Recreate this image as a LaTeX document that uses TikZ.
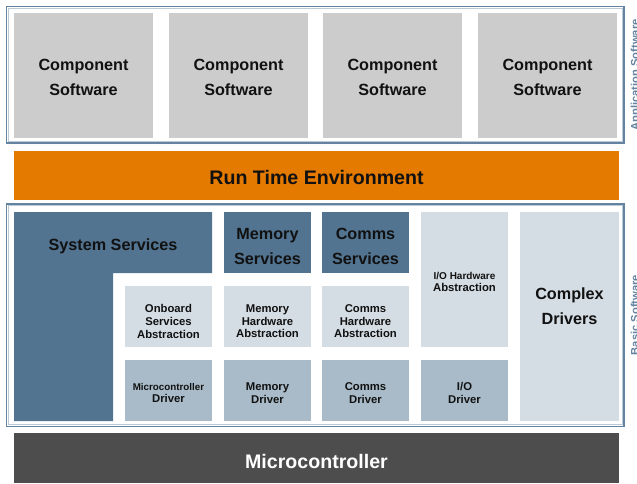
\documentclass[tikz,border=0pt]{standalone}
\usepackage{fontspec}
\setmainfont{Liberation Sans}
\definecolor{compgray}{HTML}{CCCCCC}
\definecolor{rteorange}{HTML}{E57A00}
\definecolor{svcblue}{HTML}{527491}
\definecolor{abslight}{HTML}{D5DDE4}
\definecolor{drvmid}{HTML}{A9BBC8}
\definecolor{mcudark}{HTML}{4D4D4D}
\definecolor{framedark}{HTML}{6383A0}
\definecolor{framelight}{HTML}{BCCAD6}
\definecolor{inktext}{HTML}{111111}
\begin{document}
\begin{tikzpicture}[x=1pt,y=-1pt,
  lbl/.style={inner sep=0pt, align=center, text=inktext},
  blk/.style={inner sep=0pt},
  bigfont/.style={font=\bfseries\fontsize{16.2}{25}\selectfont},
  hugefont/.style={font=\bfseries\fontsize{19.6}{24}\selectfont},
  smallfont/.style={font=\bfseries\fontsize{11.3}{12.6}\selectfont},
  compbox/.style={blk, fill=compgray, minimum width=139pt, minimum height=125pt},
  svcbox/.style={blk, fill=svcblue, minimum width=87pt, minimum height=61pt},
  absbox/.style={blk, fill=abslight, minimum width=87pt, minimum height=61pt},
  drvbox/.style={blk, fill=drvmid, minimum width=87pt, minimum height=61pt},
  % centred caption of a box, nudged down by the given amount
  cap/.style 2 args={label={[lbl, #1]center:{#2}}},
  layerframe/.style={draw=framedark, line width=1.4pt},
  layerinner/.style={draw=framelight, line width=0.9pt},
  sidelabel/.style={inner sep=0pt, rotate=90, anchor=north, text=framedark,
    font=\bfseries\fontsize{11.2}{13}\selectfont}]
\useasboundingbox (0,0) rectangle (637,483);

% layer frames
\draw[layerframe] (6.5,6.5) rectangle (624,143);
\draw[layerinner] (8.3,8.3) rectangle (622.2,141.2);
\draw[layerframe] (6.5,204) rectangle (624,426.5);
\draw[layerinner] (8.3,205.8) rectangle (622.2,424.7);

% application layer
\node[compbox, cap={bigfont, yshift=-2pt}{Component\\Software}] (c1) at (83.5,75.5) {};
\node[compbox, cap={bigfont, yshift=-2pt}{Component\\Software}] (c2) at (238.5,75.5) {};
\node[compbox, cap={bigfont, yshift=-2pt}{Component\\Software}] (c3) at (392.5,75.5) {};
\node[compbox, cap={bigfont, yshift=-2pt}{Component\\Software}] (c4) at (547.5,75.5) {};

% run time environment
\node[blk, fill=rteorange, minimum width=605pt, minimum height=49pt,
  cap={hugefont, yshift=-2pt}{Run Time Environment}] (rte) at (316.5,175.5) {};

% system services (L-shaped block)
\fill[svcblue] (14,212) -- (212,212) -- (212,273) -- (113,273) -- (113,421) -- (14,421) -- cycle;
\node[lbl, bigfont] (sys) at (113,246.5) {System Services};

% service row
\node[svcbox, cap={bigfont, yshift=-4pt}{Memory\\Services}] (memsvc) at (267.5,242.5) {};
\node[svcbox, cap={bigfont, yshift=-4pt}{Comms\\Services}] (comsvc) at (365.5,242.5) {};

% hardware abstraction row
\node[absbox, cap={smallfont, yshift=-5pt}{Onboard\\Services\\Abstraction}] (onabs) at (168.5,316.5) {};
\node[absbox, cap={smallfont, yshift=-5pt}{Memory\\Hardware\\Abstraction}] (memabs) at (267.5,316.5) {};
\node[absbox, cap={smallfont, yshift=-5pt}{Comms\\Hardware\\Abstraction}] (comabs) at (365.5,316.5) {};
\node[absbox, minimum height=135pt,
  cap={smallfont, yshift=-2.5pt}{{\fontsize{10}{12.6}\selectfont I/O Hardware}\\Abstraction}] (ioabs) at (464.5,279.5) {};

% driver row
\node[drvbox, cap={smallfont, yshift=-2.5pt}{{\fontsize{9.8}{12.6}\selectfont Microcontroller}\\Driver}] (mcudrv) at (168.5,390.5) {};
\node[drvbox, cap={smallfont, yshift=-2.5pt}{Memory\\Driver}] (memdrv) at (267.5,390.5) {};
\node[drvbox, cap={smallfont, yshift=-2.5pt}{Comms\\Driver}] (comdrv) at (365.5,390.5) {};
\node[drvbox, cap={smallfont, yshift=-2.5pt}{I/O\\Driver}] (iodrv) at (464.5,390.5) {};

% complex drivers
\node[blk, fill=abslight, minimum width=99pt, minimum height=209pt,
  cap={bigfont, yshift=10.5pt}{Complex\\Drivers}] (cdd) at (569.5,316.5) {};

% microcontroller
\node[blk, fill=mcudark, minimum width=605pt, minimum height=50pt,
  cap={hugefont, text=white, yshift=-3pt}{Microcontroller}] (mcu) at (316.5,458) {};

% side labels
\node[sidelabel] (applbl) at (630.5,75) {Application Software};
\node[sidelabel] (bswlbl) at (630.5,315) {Basic Software};
\end{tikzpicture}
\end{document}
